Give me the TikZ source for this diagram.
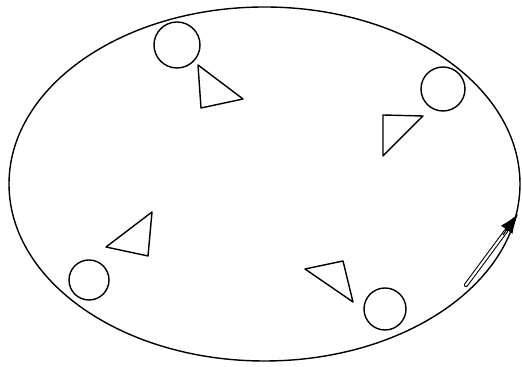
\documentclass[tikz,border=0pt]{standalone}
\usetikzlibrary{arrows.meta}
\begin{document}
\begin{tikzpicture}[x=0.02cm,y=-0.02cm,line cap=round,line join=round]
        \useasboundingbox (0,0) rectangle (522,367);

        % Trayectoria elíptica
        \draw[line width=0.8pt] (264.5,184) ellipse [x radius=255.5, y radius=177];

        % Partículas sobre la trayectoria
        \draw[line width=0.8pt] (177,45) circle [radius=23];
        \draw[line width=0.8pt] (443,89) circle [radius=22];
        \draw[line width=0.8pt] (89,280) circle [radius=20];
        \draw[line width=0.8pt] (385,309) circle [radius=21];

        % Triángulos junto a cada partícula
        \draw[line width=0.8pt] (198,65) -- (243,99) -- (201,108) -- cycle;
        \draw[line width=0.8pt] (383,115) -- (423,116) -- (383,156) -- cycle;
        \draw[line width=0.8pt] (152,212) -- (148,256) -- (106,247) -- cycle;
        \draw[line width=0.8pt] (305,269) -- (343,261) -- (353,302) -- cycle;

        % Sentido del movimiento
        \draw[line width=0.6pt,double,double distance=1.2pt]
            (466,285) -- (506,231);
        \draw[line width=0.6pt,-{Latex[length=11pt,width=8pt]}]
            (503,235) -- (518,214);
    \end{tikzpicture}
\end{document}
